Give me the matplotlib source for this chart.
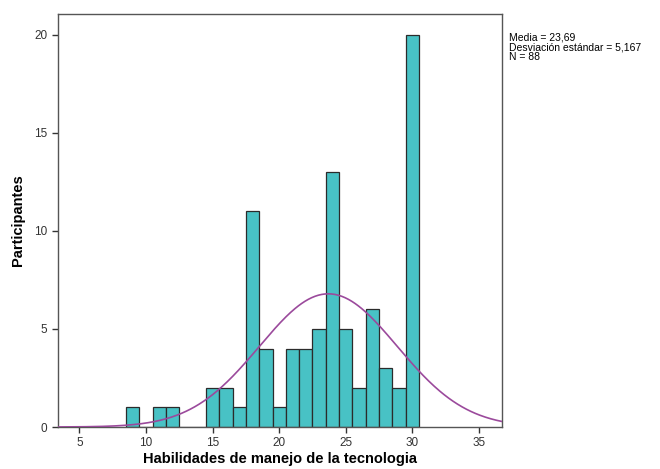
import numpy as np
import matplotlib
matplotlib.use("Agg")
import matplotlib.pyplot as plt

values = [9, 10, 11, 12, 13, 14, 15, 16, 17, 18, 19, 20, 21, 22, 23, 24, 25, 26, 27, 28, 29, 30]
counts = [1, 0, 1, 1, 0, 0, 2, 2, 1, 11, 4, 1, 4, 4, 5, 13, 5, 2, 6, 3, 2, 20]
mean = 23.69
std = 5.167
n = 88
xticks = [5, 10, 15, 20, 25, 30, 35]
yticks = [0, 5, 10, 15, 20]

plt.rcParams['font.family'] = ['Liberation Sans', 'DejaVu Sans']

fig = plt.figure(figsize=(6.6, 4.69), dpi=100)
ax = fig.add_axes([58/660, 1 - 427/469, (502-58)/660, (427-14)/469])

ax.bar(values, counts, width=1.0, color='#48C2C5', edgecolor='#2b2b2b', linewidth=0.9, zorder=2)

xs = np.linspace(3.39, 36.73, 400)
pdf = n * 1.0 / (std * np.sqrt(2 * np.pi)) * np.exp(-0.5 * ((xs - mean) / std) ** 2)
ax.plot(xs, pdf, color='#9B4A9C', linewidth=1.2, zorder=3)

ax.set_xlim(3.39, 36.73)
ax.set_ylim(0, 21.07)
ax.set_xticks(xticks)
ax.set_yticks(yticks)
ax.tick_params(axis='both', labelsize=8.5, colors='#333333', length=4, width=1, direction='out')
for s in ax.spines.values():
    s.set_color('#555555')
    s.set_linewidth(1)

ax.set_xlabel('Habilidades de manejo de la tecnologia', fontsize=10.5, fontweight='bold', labelpad=2)
ax.set_ylabel('Participantes', fontsize=10.5, fontweight='bold', labelpad=7)

fig.text(509/660, 1 - 33/469, 'Media = 23,69\nDesviación estándar = 5,167\nN = 88',
         fontsize=7.5, va='top', ha='left', linespacing=0.95)

fig.savefig('out.png', dpi=100)
